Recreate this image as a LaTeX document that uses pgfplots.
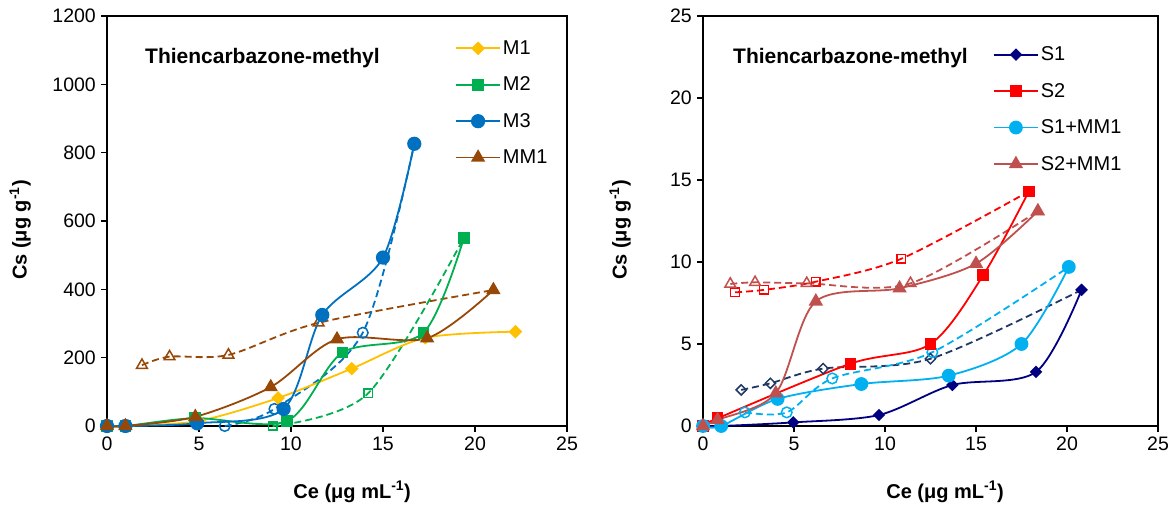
\documentclass[border=0pt]{standalone}
\usepackage{fontspec}
\setmainfont{Liberation Sans}
\usepackage{pgfplots}
\pgfplotsset{compat=1.18}

\definecolor{cMa}{HTML}{FFC000}
\definecolor{cMb}{HTML}{00B050}
\definecolor{cMc}{HTML}{0070C0}
\definecolor{cMM}{HTML}{974706}
\definecolor{cSa}{HTML}{000080}
\definecolor{cSad}{HTML}{1F3864}
\definecolor{cSb}{HTML}{FF0000}
\definecolor{cSc}{HTML}{00B0F0}
\definecolor{cSd}{HTML}{C0504D}

\pgfplotsset{
  panel/.style={
    scale only axis, height=410bp,
    xmin=0, xmax=25, xtick={0,5,...,25},
    axis line style={line width=1.5bp},
    tick style={black, line width=1.2bp},
    major tick length=6bp, tick align=outside,
    xtick pos=left, ytick pos=left,
    clip=false,
    /pgf/number format/assume math mode=true,
    /pgf/number format/1000 sep={},
    tick label style={font=\fontsize{19.5bp}{20bp}\selectfont},
    yticklabel style={inner sep=0pt, xshift=-5bp},
    xticklabel style={inner sep=0pt, yshift=-5bp},
    label style={font=\bfseries\fontsize{20bp}{20bp}\selectfont},
    legend cell align=left,
    legend style={draw=none, fill=none, inner sep=0pt, row sep=17bp,
      font=\fontsize{20bp}{20bp}\selectfont,
      nodes={inner sep=2bp}},
    legend image code/.code={\draw[mark repeat=2,mark phase=2,#1]
      plot coordinates {(0bp,0bp) (22bp,0bp) (44bp,0bp)};},
  },
  sol/.style={smooth, line width=1.8bp},
  dsh/.style={smooth, line width=1.8bp, dash pattern=on 7bp off 4bp, forget plot},
}

\begin{document}
\begin{tikzpicture}
\useasboundingbox (0,0) rectangle (1176bp,510bp);

% left panel
\begin{axis}[panel, at={(107bp,84bp)}, anchor=south west, width=460bp,
  ymin=0, ymax=1200, ytick={0,200,...,1200},
  xlabel={Ce (μg mL\textsuperscript{-1})},
  ylabel={Cs (μg g\textsuperscript{-1})},
  xlabel style={at={(axis description cs:0.533,-0.161)}, anchor=center},
  ylabel style={at={(axis description cs:-0.189,0.478)}, anchor=center},
  legend style={at={(axis description cs:0.7565,0.945)}, anchor=north west},
]
\addplot[dsh, cMM, mark=triangle, mark size=6.2bp, mark options={solid, line width=1.5bp}]
  coordinates {(1.9,178) (3.4,203) (6.6,208) (11.5,302) (21.0,398)};
\addplot[dsh, cMb, mark=square, mark size=4.2bp, mark options={solid, line width=1.5bp}]
  coordinates {(9.0,0) (14.2,96) (19.4,551)};
\addplot[dsh, cMc, mark=o, mark size=5.3bp, mark options={solid, line width=1.5bp}]
  coordinates {(6.4,0) (9.1,50) (13.9,273) (16.7,826)};

\addplot[sol, cMa, mark=square*, mark size=3.9bp, mark options={rotate=45}]
  coordinates {(0,0) (1,0) (5,15) (9.3,82) (13.3,168) (17.3,258) (22.2,276)};
\addlegendentry{M1}
\addplot[sol, cMb, mark=square*, mark size=5bp]
  coordinates {(0,0) (1,0) (4.8,23) (9.8,15) (12.8,215) (17.2,273) (19.4,551)};
\addlegendentry{M2}
\addplot[sol, cMc, mark=*, mark size=6.2bp]
  coordinates {(0,0) (1,0) (4.9,8) (9.6,50) (11.7,325) (15.0,493) (16.7,826)};
\addlegendentry{M3}
\addplot[sol, cMM, mark=triangle*, mark size=6.5bp]
  coordinates {(0,0) (1,0) (4.8,27) (8.9,114) (12.5,254) (17.4,257) (21.0,398)};
\addlegendentry{MM1}

\node[anchor=base west, inner sep=0pt, font=\bfseries\fontsize{21bp}{21bp}\selectfont]
  at (axis description cs:0.0826,0.885) {Thiencarbazone-methyl};
\end{axis}

% right panel
\begin{axis}[panel, at={(703bp,84bp)}, anchor=south west, width=455bp,
  ymin=0, ymax=25, ytick={0,5,...,25},
  xlabel={Ce (μg mL\textsuperscript{-1})},
  ylabel={Cs (μg g\textsuperscript{-1})},
  xlabel style={at={(axis description cs:0.532,-0.161)}, anchor=center},
  ylabel style={at={(axis description cs:-0.182,0.478)}, anchor=center},
  legend style={at={(axis description cs:0.637,0.93)}, anchor=north west},
]
\addplot[dsh, cSad, mark=square, mark size=3.6bp, mark options={solid, rotate=45, line width=1.5bp}]
  coordinates {(2.1,2.2) (3.7,2.6) (6.6,3.5) (12.5,4.1) (20.8,8.3)};
\addplot[dsh, cSb, mark=square, mark size=4.3bp, mark options={solid, line width=1.5bp}]
  coordinates {(1.76,8.15) (3.35,8.3) (6.2,8.8) (10.9,10.2) (17.9,14.3)};
\addplot[dsh, cSc, mark=o, mark size=5.3bp, mark options={solid, line width=1.5bp}]
  coordinates {(2.3,0.83) (4.6,0.83) (7.1,2.9) (12.6,4.5) (20.1,9.7)};
\addplot[dsh, cSd, mark=triangle, mark size=6.2bp, mark options={solid, line width=1.5bp}]
  coordinates {(1.5,8.66) (2.86,8.76) (5.7,8.7) (11.4,8.7) (18.4,13.1)};

\addplot[sol, cSa, mark=square*, mark size=3.5bp, mark options={rotate=45}]
  coordinates {(0,0) (1,0) (4.96,0.22) (9.67,0.67) (13.7,2.5) (18.3,3.3) (20.8,8.3)};
\addlegendentry{S1}
\addplot[sol, cSb, mark=square*, mark size=5bp]
  coordinates {(0,0) (0.8,0.47) (8.1,3.8) (12.5,5.0) (15.4,9.2) (17.9,14.3)};
\addlegendentry{S2}
\addplot[sol, cSc, mark=*, mark size=6bp]
  coordinates {(0,0) (1,0) (4.1,1.65) (8.7,2.56) (13.5,3.07) (17.5,5.0) (20.1,9.7)};
\addlegendentry{S1+MM1}
\addplot[sol, cSd, mark=triangle*, mark size=6.5bp]
  coordinates {(0,0) (0.8,0.37) (4.0,2.0) (6.2,7.6) (10.8,8.4) (15.0,9.9) (18.4,13.1)};
\addlegendentry{S2+MM1}

\node[anchor=base west, inner sep=0pt, font=\bfseries\fontsize{21bp}{21bp}\selectfont]
  at (axis description cs:0.066,0.885) {Thiencarbazone-methyl};
\end{axis}
\end{tikzpicture}
\end{document}
